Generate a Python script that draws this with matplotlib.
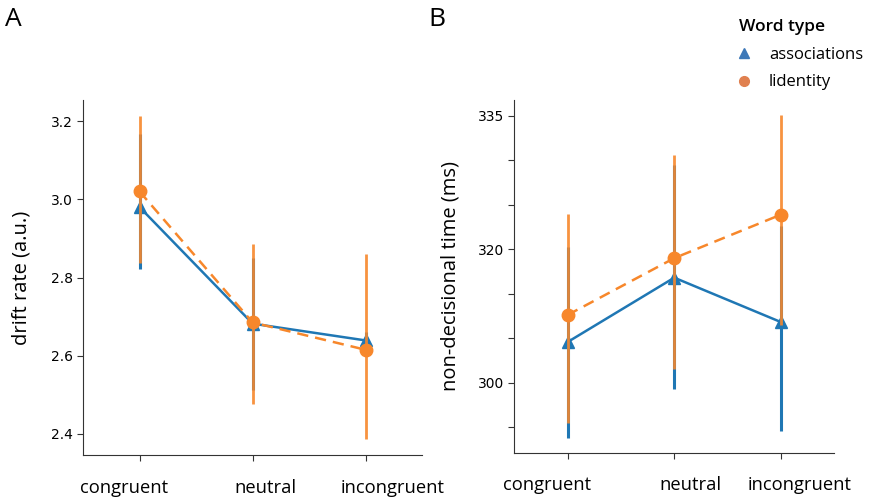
import numpy as np
import matplotlib
matplotlib.use("Agg")
import matplotlib.pyplot as plt
from matplotlib.lines import Line2D
from matplotlib.transforms import ScaledTranslation

conditions = ["congruent", "neutral", "incongruent"]

# panel A: drift rate
drift_assoc = [2.98, 2.682, 2.639]
drift_assoc_lo = [2.822, 2.513, 2.62]
drift_assoc_hi = [3.168, 2.851, 2.66]
drift_ident = [3.02, 2.685, 2.615]
drift_ident_lo = [2.838, 2.477, 2.388]
drift_ident_hi = [3.212, 2.885, 2.861]

# panel B: non-decisional time
ndt_assoc = [304.55, 311.8, 306.8]
ndt_assoc_lo = [293.8, 299.3, 294.5]
ndt_assoc_hi = [315.3, 324.5, 317.6]
ndt_ident = [307.6, 314.0, 318.9]
ndt_ident_lo = [295.4, 301.5, 306.5]
ndt_ident_hi = [319.0, 325.6, 330.1]
ndt_ticks = [295, 300, 305, 310, 315, 320, 325, 330]
ndt_ticklabels = ["", "300", "", "", "320", "", "", "335"]

blue = "#1f77b4"
orange = "#f7872b"
humanist = ["Open Sans", "DejaVu Sans"]

fig = plt.figure(figsize=(8.7, 5), dpi=100)
axA = fig.add_axes([0.0954, 0.09, 0.390, 0.71])
axB = fig.add_axes([0.591, 0.0946, 0.368, 0.7054])


def draw(ax, a, alo, ahi, b, blo, bhi):
    x = np.arange(len(conditions))
    ax.vlines(x, alo, ahi, color=blue, lw=2.2, zorder=2)
    ax.plot(x, a, color=blue, lw=1.8, marker="^", ms=9, zorder=3)
    ax.vlines(x, blo, bhi, color=orange, lw=2.0, alpha=0.9, zorder=4)
    ax.plot(x, b, color=orange, lw=1.8, ls=(0, (4.5, 2.8)), marker="o", ms=9, zorder=5)
    ax.set_xlim(-0.5, 2.5)
    ax.set_xticks(x)
    ax.set_xticklabels(conditions, fontsize=13.2, family=humanist)
    ax.tick_params(axis="x", pad=13, length=4, color="#333333")
    ax.tick_params(axis="y", labelsize=10, length=4, color="#333333")
    for s in ["top", "right"]:
        ax.spines[s].set_visible(False)
    for s in ["left", "bottom"]:
        ax.spines[s].set_color("#333333")


draw(axA, drift_assoc, drift_assoc_lo, drift_assoc_hi, drift_ident, drift_ident_lo, drift_ident_hi)
axA.set_ylim(2.346, 3.254)
axA.set_yticks([2.4, 2.6, 2.8, 3.0, 3.2])
axA.set_ylabel("drift rate (a.u.)", fontsize=14.5, family=humanist, labelpad=14)

draw(axB, ndt_assoc, ndt_assoc_lo, ndt_assoc_hi, ndt_ident, ndt_ident_lo, ndt_ident_hi)
axB.set_ylim(292.1, 331.8)
axB.set_yticks(ndt_ticks)
axB.set_yticklabels(ndt_ticklabels)
axB.set_ylabel("non-decisional time (ms)", fontsize=14.5, family=humanist, labelpad=12)

# the x labels sit a little off their ticks in the original
shifts = {axA: [-15, 13, 27], axB: [-20, 16, 19]}
for ax, dxs in shifts.items():
    for lab, dx in zip(ax.get_xticklabels(), dxs):
        lab.set_transform(lab.get_transform() + ScaledTranslation(dx / 100, 0, fig.dpi_scale_trans))

fig.text(0.006, 0.96, "A", fontsize=19, family=humanist, va="center")
fig.text(0.492, 0.96, "B", fontsize=19, family=humanist, va="center")

handles = [
    Line2D([], [], ls="none", marker="^", ms=7, color="#3d78b8", label="associations"),
    Line2D([], [], ls="none", marker="o", ms=7, color="#e0804f", label="lidentity"),
]
leg = fig.legend(handles=handles, title="Word type", loc="upper left",
                 bbox_to_anchor=(0.836, 0.985), frameon=False,
                 prop={"family": humanist, "size": 12}, handlelength=0.6,
                 handletextpad=1.2, labelspacing=0.7, borderpad=0.2)
leg.get_title().set_fontsize(12.5)
leg.get_title().set_family(humanist)
leg.get_title().set_fontweight("semibold")
leg._legend_box.align = "left"

fig.savefig("out.png", dpi=100)
